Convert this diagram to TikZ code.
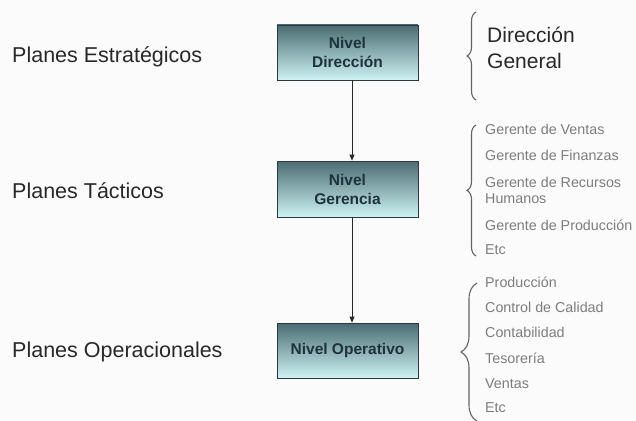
\documentclass[tikz,border=0pt]{standalone}
\usepackage{fontspec}
\setmainfont{Liberation Sans}
\usetikzlibrary{arrows.meta,decorations.pathreplacing}
\definecolor{bgc}{RGB}{251,251,251}
\definecolor{boxtop}{RGB}{74,108,114}
\definecolor{boxbot}{RGB}{205,243,243}
\definecolor{boxedge}{RGB}{45,55,60}
\definecolor{boxtext}{RGB}{30,50,62}
\definecolor{darktext}{RGB}{40,40,40}
\definecolor{lighttext}{RGB}{125,125,125}
\definecolor{bracec}{RGB}{100,100,100}
\tikzset{
  x=1pt, y=1pt,
  levelbox/.style={draw=boxedge, line width=0.8pt, top color=boxtop, bottom color=boxbot,
    minimum width=141pt, minimum height=55pt, inner sep=0pt, align=center,
    text=boxtext, font=\fontsize{15.5}{19}\selectfont\bfseries},
  plan/.style={anchor=base west, inner sep=0pt, text=darktext, font=\fontsize{21.5}{25}\selectfont},
  item/.style={anchor=base west, inner sep=0pt, text=lighttext, font=\fontsize{14.3}{17}\selectfont},
  bigitem/.style={anchor=base west, inner sep=0pt, text=darktext, font=\fontsize{21}{25}\selectfont},
  conn/.style={draw=darktext, line width=0.8pt, -{Triangle[length=6pt,width=5pt]}},
  bracket/.style={draw=bracec, line width=1.1pt, decorate, decoration={brace}},
}
\begin{document}
\begin{tikzpicture}
\fill[bgc] (0,0) rectangle (636,-420);
\useasboundingbox (0,0) rectangle (636,-420);

% level boxes
\node[levelbox] (b1) at (347.5,-52.5) {Nivel\\Dirección};
\node[levelbox, minimum height=56pt] (b2) at (347.5,-189) {Nivel\\Gerencia};
\node[levelbox] (b3) at (347.5,-350.5) {Nivel Operativo};

% connectors
\draw[conn] ([xshift=4.5pt]b1.south) -- ([xshift=4.5pt]b2.north);
\draw[conn] ([xshift=4.5pt]b2.south) -- ([xshift=4.5pt]b3.north);

% left labels
\node[plan] (p1) at (12,-63) {Planes Estratégicos};
\node[plan] (p2) at (12,-198) {Planes Tácticos};
\node[plan] (p3) at (12,-357) {Planes Operacionales};

% braces
\coordinate (c1a) at (476,-100);
\coordinate (c1b) at (476,-12);
\draw[bracket, decoration={brace, amplitude=9pt}] (c1a) -- (c1b);
\coordinate (c2a) at (476,-256);
\coordinate (c2b) at (476,-125);
\draw[bracket, decoration={brace, amplitude=9pt}] (c2a) -- (c2b);
\coordinate (c3a) at (477,-421);
\coordinate (c3b) at (477,-283);
\draw[bracket, decoration={brace, amplitude=16pt}] (c3a) -- (c3b);

% right group 1
\node[bigitem] (d1) at (487,-43) {Dirección};
\node[bigitem] (d2) at (487,-68) {General};

% right group 2
\node[item] (g1) at (485,-134) {Gerente de Ventas};
\node[item] (g2) at (485,-160) {Gerente de Finanzas};
\node[item] (g3) at (485,-187) {Gerente de Recursos};
\node[item] (g4) at (485,-203) {Humanos};
\node[item] (g5) at (485,-230) {Gerente de Producción};
\node[item] (g6) at (485,-254) {Etc};

% right group 3
\node[item] (o1) at (485,-287) {Producción};
\node[item] (o2) at (485,-312) {Control de Calidad};
\node[item] (o3) at (485,-337) {Contabilidad};
\node[item] (o4) at (485,-363) {Tesorería};
\node[item] (o5) at (485,-388) {Ventas};
\node[item] (o6) at (485,-412) {Etc};
\end{tikzpicture}
\end{document}
